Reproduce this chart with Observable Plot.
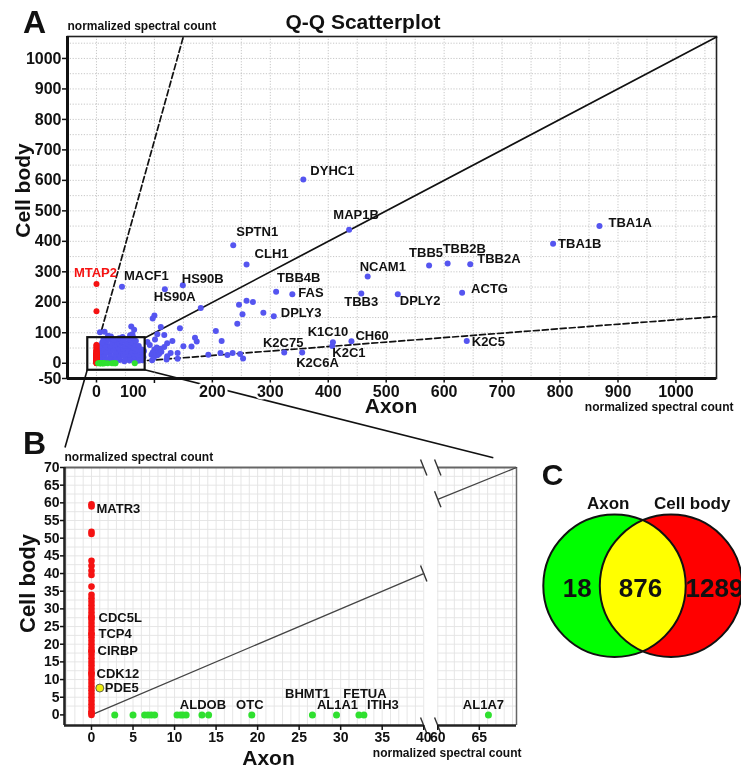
<!DOCTYPE html>
<html><head><meta charset="utf-8">
<script src="https://cdn.jsdelivr.net/npm/d3@7"></script>
<script src="https://cdn.jsdelivr.net/npm/@observablehq/plot@0.6"></script>
<style>
html,body{margin:0;padding:0;background:#fff;}
#fig{position:relative;width:741px;height:769px;overflow:hidden;font-family:"Liberation Sans",Arial,sans-serif;}
</style></head>
<body><div id="fig"></div>
<script>
// ================= DATA =================
// Panel A: proteins found in both compartments (normalized spectral count)
const sharedGenes = ["DYHC1","MAP1B","SPTN1","CLH1","MACF1","HS90B","HS90A","TBB4B","FAS","DPLY3",
  "NCAM1","TBB3","DPLY2","ACTG","TBB5","TBB2B","TBB2A","TBA1B","TBA1A","K2C5","K2C75","K2C6A","K1C10","K2C1","CH60"];
const sharedAxon = [357,436,236,259,44,149,118,310,338,306,468,457,520,631,574,606,645,788,868,639,324,355,408,407,440];
const sharedCell = [603,438,387,324,251,256,243,235,226,154,285,229,226,231,321,327,325,392,450,73,35,35,69,57,72];
// unlabeled shared proteins [axon, cell body]
const sharedOther = [
 [180,181],[246,192],[259,205],[270,201],[252,161],[243,130],[288,166],[97,147],[100,157],[111,119],
 [60,121],[65,110],[62,95],[6,102],[14,103],[20,90],[144,115],[206,106],[216,73],[170,84],[173,71],
 [164,55],[150,56],[131,73],[122,66],[105,95],[117,93],[101,78],[117,53],[128,34],[140,34],[122,23],
 [105,26],[121,12],[140,15],[193,28],[214,34],[226,27],[235,34],[248,30],[253,16],[100,45],[105,40],
 [97,35],[110,48],[104,52],[95,28],[108,30],[99,18],[96,10],[92,60],[88,70],[112,38]
];
// dense low-abundance shared proteins
const sharedLow = [
 [5,9],[13,7],[22,10],[31,8],[40,11],[48,7],[57,9],[65,12],[72,8],[79,10],
 [7,19],[15,17],[24,20],[33,18],[41,21],[50,17],[58,19],[66,22],[74,18],[81,20],
 [6,29],[14,27],[23,30],[32,28],[39,31],[47,27],[56,29],[64,32],[71,28],[80,31],
 [8,39],[16,37],[25,40],[34,38],[42,41],[51,37],[59,39],[67,42],[75,38],[82,40],
 [5,49],[13,47],[21,50],[30,48],[38,51],[46,47],[55,49],[63,52],[70,48],[78,45],
 [7,58],[15,61],[24,57],[32,60],[41,62],[49,57],[58,59],[66,63],[73,57],
 [10,68],[18,71],[27,67],[35,70],[44,72],[52,66],[60,69],[68,73],
 [12,78],[21,80],[30,76],[39,82],[47,77],[56,79],[64,84],[25,88],[45,86],[58,92]
];
// Cell body only (axon = 0)
const cellOnlyGenes = ["MTAP2","MATR3","CDC5L","TCP4","CIRBP","CDK12"];
const cellOnlyLabeled = [260,59,27.6,22.9,18.1,11.7];
const cellOnlyOther = [171,59.6,51.8,51.2,43.6,42.2,40.8,39.6,36.3,34,33,32,31,30,29,28,27,26,25,24,23,
  22,21,20,19,18,17,16,15,14,13,12,11,10,9,8,7,6,5,4,3,2,1,0.5,0];
// Axon only (cell body = 0)
const axonOnlyAxon = [2.8,5.0,6.4,6.8,7.2,7.6,10.3,10.7,11.0,11.4,13.3,14.1,19.3,26.6,29.5,32.2,32.8,66.1];
const axonOnlyGenes = {ALDOB:13.3, OTC:19.3, BHMT1:26.6, AL1A1:29.5, FETUA:32.2, ITIH3:32.8, AL1A7:66.1};
// low-abundance protein in both
const lowBothGene = "PDE5", lowBothAxon = 1.0, lowBothCell = 7.6;
// reference lines (axon, cell body)
const equalLineA = [[84,84],[1070,1070]];
const upperFoldA = [[9,110],[150,1072]];
const lowerFoldA = [[88,9],[1070,153]];
const zoomBoxA = {x1:-15, x2:84, y1:-23, y2:84};
const equalLineB1 = [[0,0],[40,40]];
const equalLineB2 = [[60,61],[69.48,70]];
// ticks
const xTicksA = [0,100,200,300,400,500,600,700,800,900,1000];
const yTicksA = [-50,0,100,200,300,400,500,600,700,800,900,1000];
const gridA = [0,50,100,150,200,250,300,350,400,450,500,550,600,650,700,750,800,850,900,950,1000,1050];
const xTicksB = [0,5,10,15,20,25,30,35,40,60,65];
const yTicksB = [0,5,10,15,20,25,30,35,40,45,50,55,60,65,70];
// Venn
const vennSets = ["Axon","Cell body"];
const vennCounts = [18, 876, 1289];

// ================= STYLE / LAYOUT =================
const FONT = '"Liberation Sans", Arial, Helvetica, sans-serif';
const BLUE = "#5555f0", RED = "#f51212", GREEN = "#2fe02f";
const svgStyle = {fontFamily: FONT, fontWeight: "bold", background: "transparent", overflow: "visible", color: "#111"};
const placeA = {
  DYHC1:[7,-9,"start"], MAP1B:[7,-15,"middle"], SPTN1:[3,-13,"start"], CLH1:[8,-11,"start"],
  MACF1:[2,-11,"start"], HS90B:[-1,-6,"start"], HS90A:[-11,8,"start"], TBB4B:[1,-14,"start"],
  FAS:[6,-2,"start"], DPLY3:[7,-3,"start"], NCAM1:[-8,-10,"start"], TBB3:[-17,8,"start"],
  DPLY2:[2,6,"start"], ACTG:[9,-4,"start"], TBB5:[-20,-13,"start"], TBB2B:[-5,-15,"start"],
  TBB2A:[7,-5,"start"], TBA1B:[5,0,"start"], TBA1A:[9,-3,"start"], K2C5:[5,1,"start"],
  K2C75:[-1,-10,"middle"], K2C6A:[-6,10,"start"], K1C10:[-5,-10,"middle"], K2C1:[0,7,"start"],
  CH60:[4,-5,"start"], MTAP2:[-1,-11,"middle"]
};
const placeB = {
  MATR3:[5,2,"start"], CDC5L:[7,0,"start"], TCP4:[7,0,"start"], CIRBP:[6,0,"start"], CDK12:[5,0,"start"],
  PDE5:[5,0,"start"], ALDOB:[1,-10,"middle"], OTC:[-2,-10,"middle"], BHMT1:[-5,-21,"middle"],
  AL1A1:[1,-10,"middle"], FETUA:[6,-21,"middle"], ITIH3:[19,-10,"middle"], AL1A7:[-5,-10,"middle"]
};
const shiftedTickA = {value: 100, dx: -21}; // label nudged left of the zoom connector
const GAP = 1.69; // width of axis break (in axis units)
const bx = v => v <= 40 ? v : v - 60 + 40 + GAP;
const bxInv = v => v <= 40.5 ? v : v + 60 - 40 - GAP;

const fig = document.getElementById("fig");
function place(el, left, top) {
  el.style.position = "absolute"; el.style.left = left + "px"; el.style.top = top + "px";
  fig.appendChild(el); return el;
}
const txt = (t, o) => Plot.text([t], {text: d => d, fontWeight: "bold", textAnchor: "middle", lineAnchor: "middle", ...o});

// ================= PANEL A =================
const labelMarksA = sharedGenes.map((g, i) => {
  const [dx, dy, a] = placeA[g];
  return Plot.text([i], {x: j => sharedAxon[j], y: j => sharedCell[j], text: () => g, dx, dy, textAnchor: a, fontSize: 13, fontWeight: "bold", fill: "#111"});
});
const mt = placeA.MTAP2;
const A = Plot.plot({
  width: 741, height: 415,
  marginLeft: 67, marginRight: 25, marginTop: 36, marginBottom: 37,
  x: {domain: [-50, 1070], label: null},
  y: {domain: [-50, 1072], label: null},
  style: svgStyle,
  marks: [
    Plot.gridX(gridA, {stroke: "#999", strokeOpacity: 0.55, strokeDasharray: "1.2,1.6"}),
    Plot.gridY(gridA, {stroke: "#999", strokeOpacity: 0.55, strokeDasharray: "1.2,1.6"}),
    Plot.frame({stroke: "#222", strokeWidth: 1.6}),
    Plot.ruleX([-50], {stroke: "#111", strokeWidth: 3}),
    Plot.ruleY([-50], {stroke: "#111", strokeWidth: 3}),
    Plot.axisX(xTicksA, {tickSize: 5, tickPadding: 2, fontSize: 16, strokeWidth: 1.5, textStroke: "white", textStrokeWidth: 5,
      tickFormat: d => d === shiftedTickA.value ? "" : String(d), label: null}),
    Plot.text([shiftedTickA.value], {x: d => d, y: -50, text: d => String(d), dx: shiftedTickA.dx, dy: 13, fontSize: 16, fontWeight: "bold", stroke: "white", strokeWidth: 5, paintOrder: "stroke", fill: "#111"}),
    Plot.axisY(yTicksA, {tickSize: 5, tickPadding: 1, fontSize: 16, strokeWidth: 1.5, tickFormat: d => String(d), label: null}),
    Plot.line(equalLineA, {x: d => d[0], y: d => d[1], stroke: "#111", strokeWidth: 1.7}),
    Plot.line(upperFoldA, {x: d => d[0], y: d => d[1], stroke: "#111", strokeWidth: 1.7, strokeDasharray: "6,3"}),
    Plot.line(lowerFoldA, {x: d => d[0], y: d => d[1], stroke: "#111", strokeWidth: 1.7, strokeDasharray: "6,3"}),
    Plot.dot(sharedLow, {x: d => d[0], y: d => d[1], r: 3, fill: BLUE}),
    Plot.dot(sharedOther, {x: d => d[0], y: d => d[1], r: 3, fill: BLUE}),
    Plot.dot(sharedGenes, {x: (d, i) => sharedAxon[i], y: (d, i) => sharedCell[i], r: 3, fill: BLUE}),
    Plot.dot(cellOnlyOther.concat(cellOnlyLabeled), {x: 0, y: d => d, r: 3, fill: RED}),
    Plot.dot(axonOnlyAxon, {x: d => d, y: 0, r: 3, fill: GREEN}),
    Plot.rect([zoomBoxA], {x1: "x1", x2: "x2", y1: "y1", y2: "y2", fill: "none", stroke: "#111", strokeWidth: 2.2}),
    ...labelMarksA,
    Plot.text([0], {x: 0, y: cellOnlyLabeled[0], text: () => cellOnlyGenes[0], dx: mt[0], dy: mt[1], textAnchor: mt[2], fontSize: 13, fontWeight: "bold", fill: RED}),
    txt("Q-Q Scatterplot", {frameAnchor: "top", dx: -29, dy: -14, fontSize: 21}),
    txt("A", {frameAnchor: "top-left", dx: -33, dy: -14, fontSize: 32}),
    txt("normalized spectral count", {frameAnchor: "top-left", textAnchor: "start", dy: -10, fontSize: 12}),
    txt("Cell body", {frameAnchor: "left", rotate: -90, dx: -44, dy: -17, fontSize: 21}),
    txt("Axon", {frameAnchor: "bottom", dx: -1, dy: 28, fontSize: 21}),
    txt("normalized spectral count", {frameAnchor: "bottom-right", textAnchor: "end", dx: 17, dy: 29, fontSize: 12})
  ]
});

// ================= PANEL B =================
const redB = cellOnlyOther.concat(cellOnlyLabeled).filter(v => v <= 70);
const labelMarksB = [];
cellOnlyGenes.forEach((g, i) => {
  if (cellOnlyLabeled[i] > 70) return;
  const [dx, dy, a] = placeB[g];
  labelMarksB.push(Plot.text([i], {x: 0, y: j => cellOnlyLabeled[j], text: () => g, dx, dy, textAnchor: a, fontSize: 13, fontWeight: "bold"}));
});
Object.entries(axonOnlyGenes).forEach(([g, v]) => {
  const [dx, dy, a] = placeB[g];
  labelMarksB.push(Plot.text([v], {x: d => bx(d), y: 0, text: () => g, dx, dy, textAnchor: a, fontSize: 13, fontWeight: "bold"}));
});
{
  const [dx, dy, a] = placeB[lowBothGene];
  labelMarksB.push(Plot.text([0], {x: lowBothAxon, y: lowBothCell, text: () => lowBothGene, dx, dy, textAnchor: a, fontSize: 13, fontWeight: "bold"}));
}
const XMIN_B = -3.25, XMAX_B = bx(69.48), YMIN_B = -3, YMAX_B = 70;
const PXX = 452 / (XMAX_B - XMIN_B), PXY = 258 / (YMAX_B - YMIN_B);
const gridXB = d3.range(-3, 40.5, 1).concat(d3.range(60, 69.6, 1).map(bx));
const gridYB = d3.range(2.5, 70, 2.5);
const breaksB = [[40, YMAX_B], [bx(60), YMAX_B], [40, YMIN_B], [bx(60), YMIN_B], [40, 40], [bx(60), 61]];
const B = Plot.plot({
  width: 530, height: 349,
  marginLeft: 64, marginRight: 14, marginTop: 47, marginBottom: 44,
  x: {domain: [XMIN_B, XMAX_B], label: null},
  y: {domain: [YMIN_B, YMAX_B], label: null},
  style: svgStyle,
  marks: [
    Plot.ruleX(gridXB, {y1: YMIN_B, y2: YMAX_B, stroke: "#e3e3e3", strokeWidth: 0.9}),
    Plot.ruleY(gridYB, {x1: XMIN_B, x2: 40, stroke: "#e3e3e3", strokeWidth: 0.9}),
    Plot.ruleY(gridYB, {x1: bx(60), x2: XMAX_B, stroke: "#e3e3e3", strokeWidth: 0.9}),
    Plot.ruleY([YMAX_B], {x1: XMIN_B, x2: 40, stroke: "#666", strokeWidth: 2}),
    Plot.ruleY([YMAX_B], {x1: bx(60), x2: XMAX_B, stroke: "#666", strokeWidth: 2}),
    Plot.ruleX([XMAX_B], {y1: YMIN_B, y2: YMAX_B, stroke: "#666", strokeWidth: 1.5}),
    Plot.ruleY([YMIN_B], {x1: XMIN_B, x2: 40, stroke: "#222", strokeWidth: 2.6}),
    Plot.ruleY([YMIN_B], {x1: bx(60), x2: XMAX_B, stroke: "#222", strokeWidth: 2.6}),
    Plot.ruleX([XMIN_B], {y1: YMIN_B, y2: YMAX_B, stroke: "#222", strokeWidth: 2.6}),
    Plot.link(breaksB, {x1: d => d[0] - 3.2 / PXX, y1: d => d[1] + 8 / PXY, x2: d => d[0] + 3.2 / PXX, y2: d => d[1] - 8 / PXY, stroke: "#333", strokeWidth: 1.4}),
    Plot.axisX(xTicksB.map(bx), {tickFormat: d => String(Math.round(bxInv(d))), tickSize: 5, tickPadding: 2, fontSize: 14, strokeWidth: 1.5, label: null}),
    Plot.axisY(yTicksB, {tickSize: 4, tickPadding: 1, fontSize: 14, strokeWidth: 1.5, tickFormat: d => String(d), label: null}),
    Plot.line(equalLineB1, {x: d => bx(d[0]), y: d => d[1], stroke: "#444", strokeWidth: 1.3}),
    Plot.line(equalLineB2, {x: d => bx(d[0]), y: d => d[1], stroke: "#444", strokeWidth: 1.3}),
    Plot.dot(redB, {x: 0, y: d => d, r: 3.3, fill: RED}),
    Plot.dot(axonOnlyAxon, {x: d => bx(d), y: 0, r: 3.5, fill: GREEN}),
    Plot.dot([lowBothGene], {x: lowBothAxon, y: lowBothCell, r: 4, fill: "#eeee10", stroke: "#444", strokeWidth: 0.8}),
    ...labelMarksB,
    txt("B", {frameAnchor: "top-left", dx: -30, dy: -24, fontSize: 32}),
    txt("normalized spectral count", {frameAnchor: "top-left", textAnchor: "start", dy: -10, fontSize: 12}),
    txt("Cell body", {frameAnchor: "left", rotate: -90, dx: -37, dy: -13, fontSize: 22}),
    txt("Axon", {frameAnchor: "bottom", dx: -22, dy: 33, fontSize: 21}),
    txt("normalized spectral count", {frameAnchor: "bottom-right", textAnchor: "end", dx: 5, dy: 28, fontSize: 12})
  ]
});

// ================= PANEL C (Venn) =================
const vennGeom = {cx: [94, 150.5], cy: 145.3, r: 71.2, setLabelX: [87.7, 171.7], setLabelY: 62.7, countX: [56.7, 120, 194], countY: 148.5};
const vennFill = ["#00ee00", "#ff0000"];
const V = Plot.plot({
  width: 221, height: 240, margin: 0,
  x: {type: "identity", axis: null}, y: {type: "identity", axis: null},
  style: svgStyle,
  marks: [
    Plot.dot(vennSets, {x: (d, i) => vennGeom.cx[i], y: vennGeom.cy, r: vennGeom.r, fill: (d, i) => vennFill[i], stroke: "none"}),
    Plot.dot([vennSets[0]], {x: vennGeom.cx[0], y: vennGeom.cy, r: vennGeom.r, fill: "#00ff00", stroke: "none", mixBlendMode: "screen"}),
    Plot.dot(vennSets, {x: (d, i) => vennGeom.cx[i], y: vennGeom.cy, r: vennGeom.r, fill: "none", stroke: "#111", strokeWidth: 2}),
    Plot.text(vennSets, {x: (d, i) => vennGeom.setLabelX[i], y: vennGeom.setLabelY, text: d => d, fontSize: 17, fontWeight: "bold"}),
    Plot.text(vennCounts, {x: (d, i) => vennGeom.countX[i], y: vennGeom.countY, text: d => String(d), fontSize: 26, fontWeight: "bold", fill: "#111"}),
    Plot.text(["C"], {x: 32, y: 35, text: d => d, fontSize: 30, fontWeight: "bold"})
  ]
});

// ================= connectors (zoom box A -> panel B) =================
const B_TOP = 420;
const connectors = [
  {from: [zoomBoxA.x1, zoomBoxA.y1], to: [-3.13, 75.5]},
  {from: [zoomBoxA.x2, zoomBoxA.y1], to: [bx(66.75), 72.6]}
];
const ov = d3.create("svg").attr("width", 741).attr("height", 769);
const ax = A.scale("x"), ay = A.scale("y"), bxs = B.scale("x"), bys = B.scale("y");
connectors.forEach(c => {
  ov.append("line")
    .attr("x1", ax.apply(c.from[0])).attr("y1", ay.apply(c.from[1]))
    .attr("x2", bxs.apply(c.to[0])).attr("y2", bys.apply(c.to[1]) + B_TOP)
    .attr("stroke", "#111").attr("stroke-width", 1.6);
});
place(ov.node(), 0, 0);
place(A, 0, 0);
place(B, 0, B_TOP);
place(V, 520, 440);
</script>
</body></html>
